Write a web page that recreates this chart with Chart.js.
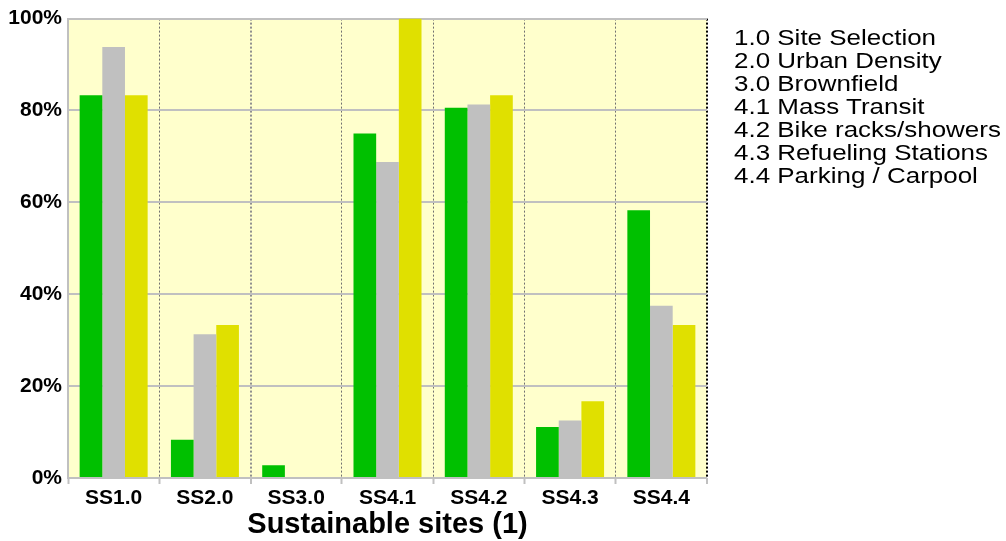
<!DOCTYPE html>
<html>
<head>
<meta charset="utf-8">
<script src="https://cdn.jsdelivr.net/npm/chart.js@4.4.0/dist/chart.umd.min.js"></script>
<style>
  html, body { margin: 0; padding: 0; background: #ffffff; }
  #wrap { position: relative; width: 1006px; height: 541px; overflow: hidden; }
  #chart { position: absolute; left: 0; top: 0; }
  #notes {
    position: absolute; left: 734px; top: 26px;
    font-family: "Liberation Sans", Arial, sans-serif;
    font-size: 22px; line-height: 23px; color: #000;
    transform: scaleX(1.18); transform-origin: 0 0; white-space: nowrap;
  }
</style>
</head>
<body>
<div id="wrap">
  <canvas id="chart" width="1006" height="541"></canvas>
  <div id="notes"></div>
</div>
<script>
// ---- data ----
const categories = ['SS1.0', 'SS2.0', 'SS3.0', 'SS4.1', 'SS4.2', 'SS4.3', 'SS4.4'];
const greenValues  = [83.3, 8.3, 2.8, 75.0, 80.6, 11.1, 58.3];
const greyValues   = [93.8, 31.3, 0, 68.8, 81.3, 12.5, 37.5];
const yellowValues = [83.3, 33.3, 0, 100, 83.3, 16.7, 33.3];
const yTicks = [0, 20, 40, 60, 80, 100];
const axisTitle = 'Sustainable sites (1)';
const notes = [
  '1.0 Site Selection',
  '2.0 Urban Density',
  '3.0 Brownfield',
  '4.1 Mass Transit',
  '4.2 Bike racks/showers',
  '4.3 Refueling Stations',
  '4.4 Parking / Carpool'
];

document.getElementById('notes').innerHTML = notes.map(t => '<div>' + t + '</div>').join('');

const FONT = '"Liberation Sans", Arial, sans-serif';

const plotBg = {
  id: 'plotBg',
  beforeDraw(chart) {
    const {ctx, chartArea: a} = chart;
    ctx.save();
    ctx.fillStyle = '#FFFFCC';
    ctx.fillRect(a.left, a.top, a.right - a.left, a.bottom - a.top);
    ctx.restore();
  }
};

new Chart(document.getElementById('chart'), {
  type: 'bar',
  data: {
    labels: categories,
    datasets: [
      { label: 'Series 1', data: greenValues,  backgroundColor: '#00C000' },
      { label: 'Series 2', data: greyValues,   backgroundColor: '#C0C0C0' },
      { label: 'Series 3', data: yellowValues, backgroundColor: '#E0E000' }
    ]
  },
  options: {
    responsive: false,
    animation: false,
    devicePixelRatio: 1,
    categoryPercentage: 0.745,
    barPercentage: 1.0,
    layout: { padding: { left: 0, top: 16, right: 299, bottom: 0 } },
    plugins: { legend: { display: false }, tooltip: { enabled: false } },
    scales: {
      x: {
        afterFit(scale) { scale.height = 63; },
        grid: {
          offset: true,
          drawOnChartArea: true,
          drawTicks: true,
          tickLength: 6,
          tickColor: '#C0C0C0',
          tickWidth: 2,
          color(ctx) {
            if (ctx.index === 0) return 'rgba(0,0,0,0)';
            if (ctx.index === undefined) return '#000000';
            if (ctx.index === 2) return '#909090';
            return '#707070';
          },
          lineWidth(ctx) {
            if (ctx.index === undefined) return 2;
            if (ctx.index === 2) return 2;
            return 1;
          }
        },
        border: { display: false, dash: [2, 2] },
        ticks: {
          color: '#000',
          padding: 2,
          font: { family: FONT, size: 21, weight: 'bold' }
        },
        title: {
          display: true,
          text: axisTitle,
          color: '#000',
          font: { family: FONT, size: 29, weight: 'bold', lineHeight: 1.1 },
          padding: { top: 0, bottom: 0 }
        }
      },
      y: {
        z: 1,
        min: 0,
        max: 100,
        afterFit(scale) { scale.width = 68; },
        afterBuildTicks(scale) { scale.ticks = yTicks.map(v => ({ value: v })); },
        grid: { color: '#C0C0C0', lineWidth: 2, drawTicks: false },
        border: { display: true, color: '#C0C0C0', width: 2 },
        ticks: {
          color: '#000',
          padding: 6,
          font: { family: FONT, size: 21, weight: 'bold' },
          callback: v => v + '%'
        }
      }
    }
  },
  plugins: [plotBg]
});
</script>
</body>
</html>
